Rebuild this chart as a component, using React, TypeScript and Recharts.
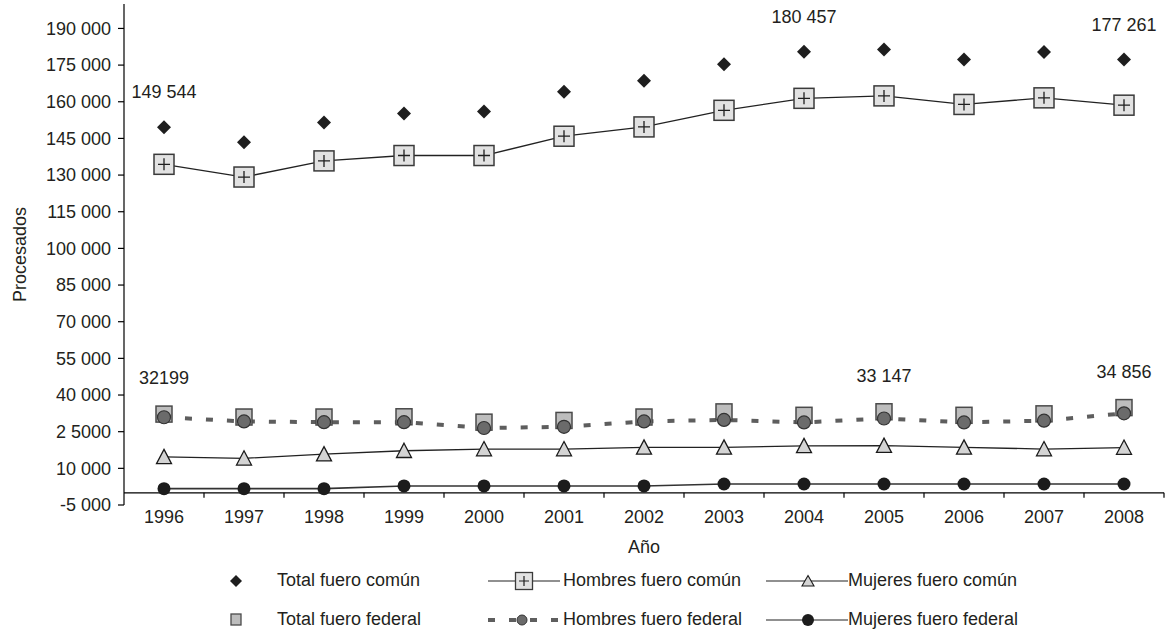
import React from "react";
import {
  ComposedChart,
  Line,
  XAxis,
  YAxis,
  ReferenceLine,
  Legend,
} from "recharts";

const years = ["1996", "1997", "1998", "1999", "2000", "2001", "2002", "2003", "2004", "2005", "2006", "2007", "2008"];

const totalComun = [149544, 143400, 151500, 155200, 156000, 164100, 168600, 175300, 180457, 181400, 177300, 180400, 177261];
const hombresComun = [134400, 129200, 135800, 138000, 138000, 145900, 149700, 156500, 161400, 162400, 158900, 161600, 158600];
const mujeresComun = [14700, 14100, 15800, 17200, 17900, 17900, 18600, 18600, 19200, 19300, 18600, 17900, 18500];
const totalFederal = [32199, 31000, 31000, 31100, 28900, 29600, 31000, 33100, 31700, 33147, 31700, 32300, 34856];
const hombresFederal = [30900, 29200, 28900, 28900, 26500, 27000, 29200, 29800, 28800, 30400, 28800, 29500, 32500];
const mujeresFederal = [1700, 1700, 1700, 2800, 2800, 2800, 2800, 3600, 3600, 3600, 3600, 3600, 3600];

// value labels printed above some points (same order as years)
const comunLabels = ["149 544", "", "", "", "", "", "", "", "180 457", "", "", "", "177 261"];
const federalLabels = ["32199", "", "", "", "", "", "", "", "", "33 147", "", "", "34 856"];

const yTicks = [-5000, 10000, 25000, 40000, 55000, 70000, 85000, 100000, 115000, 130000, 145000, 160000, 175000, 190000];
const yTickLabels = ["-5 000", "10 000", "2 5000", "40 000", "55 000", "70 000", "85 000", "100 000", "115 000", "130 000", "145 000", "160 000", "175 000", "190 000"];

const legendRow1 = ["Total fuero común", "Hombres fuero común", "Mujeres fuero común"];
const legendRow2 = ["Total fuero federal", "Hombres fuero federal", "Mujeres fuero federal"];

const data = years.map((year, i) => ({
  year,
  idx: i,
  totalComun: totalComun[i],
  hombresComun: hombresComun[i],
  mujeresComun: mujeresComun[i],
  totalFederal: totalFederal[i],
  hombresFederal: hombresFederal[i],
  mujeresFederal: mujeresFederal[i],
}));

// category boundaries for the small tick marks hanging under the zero line
const boundaries = years.map((_, i) => i + 1);

const FONT = '"Liberation Sans", Arial, Helvetica, sans-serif';
const TEXT = "#231f20";

const valueLabel = (texts: string[], index: number, cx: number, cy: number, dy: number) => {
  const t = texts[index];
  if (!t) return null;
  return (
    <text x={cx} y={cy + dy} textAnchor="middle" dominantBaseline="central" fontSize={18} fontFamily={FONT} fill={TEXT}>
      {t}
    </text>
  );
};

const DiamondDot = (p: any) => {
  const { cx, cy, index } = p;
  if (cx == null || cy == null) return <g key={`dm${index}`} />;
  const s = 7;
  return (
    <g key={`dm${index}`}>
      <path d={`M${cx},${cy - s}L${cx + s},${cy}L${cx},${cy + s}L${cx - s},${cy}Z`} fill="#1e1e1e" />
      {valueLabel(comunLabels, index, cx, cy, -35)}
    </g>
  );
};

const PlusSquareDot = (p: any) => {
  const { cx, cy, index } = p;
  if (cx == null || cy == null) return <g key={`ps${index}`} />;
  const h = 10;
  const a = 6;
  return (
    <g key={`ps${index}`}>
      <rect x={cx - h} y={cy - h} width={h * 2} height={h * 2} fill="#e2e2e2" stroke="#3a3a3a" strokeWidth={1.5} />
      <path d={`M${cx - a},${cy}H${cx + a}M${cx},${cy - a}V${cy + a}`} stroke="#1e1e1e" strokeWidth={1.3} />
    </g>
  );
};

const TriangleDot = (p: any) => {
  const { cx, cy, index } = p;
  if (cx == null || cy == null) return <g key={`tr${index}`} />;
  const s = 7.5;
  return (
    <path
      key={`tr${index}`}
      d={`M${cx},${cy - s}L${cx + s},${cy + s * 0.9}L${cx - s},${cy + s * 0.9}Z`}
      fill="#d4d4d4"
      stroke="#1a1a1a"
      strokeWidth={1.3}
    />
  );
};

const GraySquareDot = (p: any) => {
  const { cx, cy, index } = p;
  if (cx == null || cy == null) return <g key={`gs${index}`} />;
  const h = 8;
  return (
    <g key={`gs${index}`}>
      <rect x={cx - h} y={cy - h} width={h * 2} height={h * 2} fill="#bdbdbd" stroke="#4a4a4a" strokeWidth={1.5} />
      {valueLabel(federalLabels, index, cx, cy, -36)}
    </g>
  );
};

const GrayCircleDot = (p: any) => {
  const { cx, cy, index } = p;
  if (cx == null || cy == null) return <g key={`gc${index}`} />;
  return <circle key={`gc${index}`} cx={cx} cy={cy} r={6.5} fill="#6b6b6b" stroke="#333" strokeWidth={1.2} />;
};

const BlackCircleDot = (p: any) => {
  const { cx, cy, index } = p;
  if (cx == null || cy == null) return <g key={`bc${index}`} />;
  return <circle key={`bc${index}`} cx={cx} cy={cy} r={6.5} fill="#1c1c1c" />;
};

const legendIcons = [
  // row 1
  (
    <svg width={16} height={20}>
      <path d="M8,4L14,10L8,16L2,10Z" fill="#1e1e1e" />
    </svg>
  ),
  (
    <svg width={72} height={20}>
      <line x1={0} y1={10} x2={72} y2={10} stroke="#222" strokeWidth={1.2} />
      <rect x={27.5} y={1.5} width={17} height={17} fill="#e2e2e2" stroke="#3a3a3a" strokeWidth={1.3} />
      <path d="M31,10H41M36,5V15" stroke="#1e1e1e" strokeWidth={1.2} />
    </svg>
  ),
  (
    <svg width={82} height={20}>
      <line x1={0} y1={10} x2={82} y2={10} stroke="#222" strokeWidth={1.2} />
      <path d="M42,4.5L48,15L36,15Z" fill="#d4d4d4" stroke="#1a1a1a" strokeWidth={1.1} />
    </svg>
  ),
  // row 2
  (
    <svg width={16} height={20}>
      <rect x={3} y={4} width={10} height={11} fill="#bdbdbd" stroke="#4a4a4a" strokeWidth={1.3} />
    </svg>
  ),
  (
    <svg width={72} height={20}>
      <line x1={0} y1={10} x2={72} y2={10} stroke="#5e5e5e" strokeWidth={4} strokeDasharray="7 14" />
      <rect x={30} y={8} width={7} height={4} fill="#5e5e5e" />
      <circle cx={34} cy={10} r={5} fill="#6b6b6b" stroke="#333" strokeWidth={1} />
    </svg>
  ),
  (
    <svg width={82} height={20}>
      <line x1={0} y1={10} x2={82} y2={10} stroke="#222" strokeWidth={1.2} />
      <circle cx={42} cy={10} r={6} fill="#1c1c1c" />
    </svg>
  ),
];

// icon left edge and text left edge per column
const legendCols = [
  { icon: 228, text: 277 },
  { icon: 488, text: 563 },
  { icon: 766, text: 848 },
];

const renderLegend = () => {
  const rows = [legendRow1, legendRow2];
  return (
    <div style={{ position: "relative", width: 1165, height: 78, fontFamily: FONT, fontSize: 18, color: TEXT }}>
      {rows.map((row, r) =>
        row.map((name, c) => (
          <React.Fragment key={`${r}-${c}`}>
            <div
              style={{
                position: "absolute",
                left: legendCols[c].icon,
                top: r * 39 + 9.5,
                height: 20,
                lineHeight: 0,
              }}
            >
              {legendIcons[r * 3 + c]}
            </div>
            <div
              style={{
                position: "absolute",
                left: legendCols[c].text,
                top: r * 39,
                height: 39,
                lineHeight: "39px",
                whiteSpace: "nowrap",
              }}
            >
              {name}
            </div>
          </React.Fragment>
        ))
      )}
    </div>
  );
};

const renderYLabel = (props: any) => {
  const vb = props.viewBox || { x: 0, y: 0, width: 0, height: 0 };
  const x = vb.x + 20;
  const y = vb.y + vb.height / 2;
  return (
    <text
      x={x}
      y={y}
      transform={`rotate(-90, ${x}, ${y})`}
      textAnchor="middle"
      dominantBaseline="central"
      fontSize={18}
      fontFamily={FONT}
      fill={TEXT}
    >
      Procesados
    </text>
  );
};

export default function App() {
  return (
    <div style={{ position: "absolute", left: 0, top: 0, width: 1165, height: 632, background: "#fff", fontFamily: FONT }}>
      <ComposedChart width={1165} height={632} data={data} margin={{ top: 4, right: 1, bottom: 97, left: 0 }}>
        <XAxis
          dataKey="year"
          scale="band"
          axisLine={false}
          tickLine={false}
          tickSize={0}
          tickMargin={5}
          interval={0}
          height={30}
          tick={{ fontSize: 18, fill: TEXT, fontFamily: FONT }}
          label={{ value: "Año", position: "bottom", offset: 5, fontSize: 18, fill: TEXT, fontFamily: FONT }}
        />
        <XAxis xAxisId="num" type="number" dataKey="idx" domain={[0, years.length]} hide allowDataOverflow />
        <YAxis
          type="number"
          domain={[-5000, 200000]}
          ticks={yTicks}
          interval={0}
          allowDataOverflow
          width={124}
          tickSize={6}
          tickMargin={7}
          tickFormatter={(v: number) => yTickLabels[yTicks.indexOf(v)] ?? String(v)}
          tick={{ fontSize: 18, fill: TEXT, fontFamily: FONT }}
          axisLine={{ stroke: "#000", strokeWidth: 1.2 }}
          tickLine={{ stroke: "#000", strokeWidth: 1.2 }}
          label={{ content: renderYLabel }}
        />
        <ReferenceLine y={0} stroke="#000" strokeWidth={1.2} />
        {boundaries.map((b) => (
          <ReferenceLine
            key={`b${b}`}
            xAxisId="num"
            segment={[
              { x: b, y: 0 },
              { x: b, y: -2000 },
            ]}
            stroke="#000"
            strokeWidth={1.2}
          />
        ))}
        <Legend
          layout="horizontal"
          verticalAlign="middle"
          align="center"
          wrapperStyle={{ top: 561, left: 0, width: 1165 }}
          content={renderLegend}
        />
        <Line dataKey="totalComun" stroke="none" dot={DiamondDot} activeDot={false} isAnimationActive={false} />
        <Line dataKey="hombresComun" stroke="#222" strokeWidth={1.3} dot={PlusSquareDot} activeDot={false} isAnimationActive={false} />
        <Line dataKey="mujeresComun" stroke="#222" strokeWidth={1.3} dot={TriangleDot} activeDot={false} isAnimationActive={false} />
        <Line dataKey="totalFederal" stroke="none" dot={GraySquareDot} activeDot={false} isAnimationActive={false} />
        <Line
          dataKey="hombresFederal"
          stroke="#5e5e5e"
          strokeWidth={4}
          strokeDasharray="7 14"
          dot={GrayCircleDot}
          activeDot={false}
          isAnimationActive={false}
        />
        <Line dataKey="mujeresFederal" stroke="#333" strokeWidth={1.6} dot={BlackCircleDot} activeDot={false} isAnimationActive={false} />
      </ComposedChart>
    </div>
  );
}
